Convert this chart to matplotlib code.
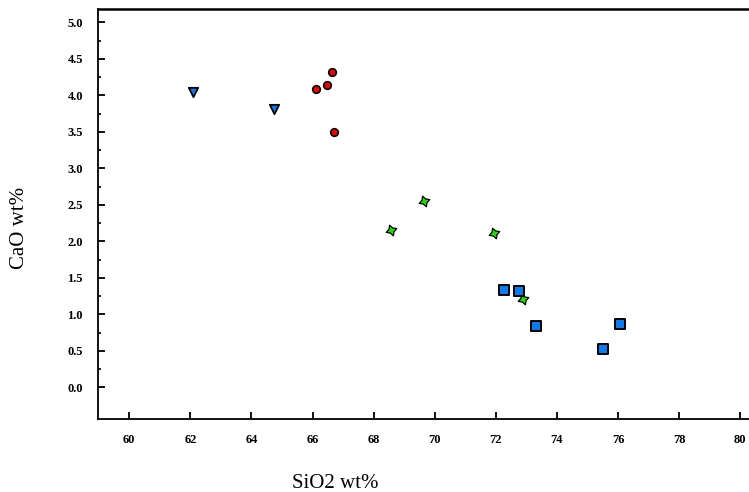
import matplotlib.pyplot as plt
import numpy as np

# Datos (SiO2 wt%, CaO wt%)
tri_x = [62.10, 64.75]
tri_y = [4.05, 3.81]

circ_x = [66.65, 66.47, 66.12, 66.70]
circ_y = [4.32, 4.14, 4.09, 3.50]

star_x = [68.56, 69.65, 71.95, 72.88]
star_y = [2.16, 2.55, 2.11, 1.21]

sq_x = [72.28, 72.76, 73.30, 76.07, 75.50]
sq_y = [1.34, 1.32, 0.84, 0.87, 0.52]

xticks = np.arange(60, 81, 2)
yticks = np.arange(0, 5.01, 0.5)

plt.rcParams['font.family'] = ['Liberation Serif', 'DejaVu Serif']

fig = plt.figure(figsize=(7.49, 4.92), dpi=100)
ax = fig.add_axes([98.3 / 749, 1 - 418.7 / 492, (749 - 98.3) / 749, (418.7 - 9.3) / 492])

ax.scatter(tri_x, tri_y, marker='v', s=45, color='#0a7cf0', edgecolors='black', linewidths=1.3, zorder=3)
ax.scatter(circ_x, circ_y, marker='o', s=30, color='#ee0000', edgecolors='black', linewidths=1.2, zorder=3)
ax.scatter(star_x, star_y, marker=(4, 1, 20), s=65, color='#22dd00', edgecolors='black', linewidths=0.9, zorder=3)
ax.scatter(sq_x, sq_y, marker='s', s=45, color='#0a7cf0', edgecolors='black', linewidths=1.4, zorder=4)

## Ejes
ax.set_xlim(58.985, 80.29)
ax.set_ylim(-0.43, 5.18)
ax.set_xticks(xticks)
ax.set_xticklabels(['%d' % v for v in xticks])
ax.set_yticks(yticks)
ax.set_yticklabels(['%.1f' % v for v in yticks])
ax.set_yticks(np.arange(0.25, 5.0, 0.5), minor=True)

ax.tick_params(axis='both', direction='in', length=5, width=1.3, labelsize=9)
ax.tick_params(axis='y', which='minor', direction='in', length=2.5, width=1.2)
ax.tick_params(axis='x', pad=11)
ax.tick_params(axis='y', pad=11)
for lbl in ax.get_xticklabels() + ax.get_yticklabels():
    lbl.set_fontweight('bold')

ax.spines['right'].set_visible(False)
ax.spines['left'].set_linewidth(1.3)
ax.spines['bottom'].set_linewidth(1.3)
ax.spines['top'].set_linewidth(1.8)

fig.text(335 / 749, 1 - 483 / 492, 'SiO2 wt%', ha='center', va='center', fontsize=15)
fig.text(19 / 749, 1 - 228 / 492, 'CaO wt%', ha='center', va='center', rotation=90, fontsize=15)

fig.savefig('out.png', dpi=100)
